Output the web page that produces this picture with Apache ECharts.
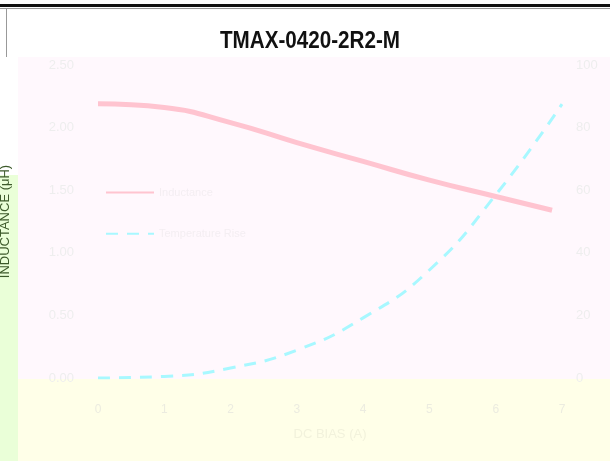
<!DOCTYPE html>
<html>
<head>
<meta charset="utf-8">
<script src="https://cdn.jsdelivr.net/npm/echarts@6/dist/echarts.min.js"></script>
<style>
  html, body { margin: 0; padding: 0; background: #fff; }
  #chart { width: 610px; height: 461px; }
</style>
</head>
<body>
<div id="chart"></div>
<script>
// DC bias current (A)
var current = [0, 1, 2, 3, 4, 5, 6, 6.85];
// inductance (uH) vs current
var inductance = [2.19, 2.16, 2.04, 1.88, 1.73, 1.58, 1.45, 1.34];
// current points for temperature rise
var currentT = [0, 1, 2, 3, 4, 5, 6, 7];
// temperature rise (C) vs current
var tempRise = [0, 0.5, 3.2, 8.9, 19.2, 34.5, 58.5, 87.5];

var chart = echarts.init(document.getElementById('chart'));

var option = {
  backgroundColor: '#fff',
  animation: false,
  graphic: [
    { type: 'rect', z: -10, shape: { x: 0, y: 4, width: 610, height: 3 }, style: { fill: '#111' } },
    { type: 'rect', z: -10, shape: { x: 0, y: 8, width: 610, height: 1 }, style: { fill: '#999' } },
    { type: 'rect', z: -10, shape: { x: 6, y: 9, width: 1, height: 48 }, style: { fill: '#999' } },
    { type: 'rect', z: -10, shape: { x: 18, y: 57, width: 592, height: 322 }, style: { fill: '#fff8fd' } },
    { type: 'rect', z: -10, shape: { x: 0, y: 175, width: 18, height: 286 }, style: { fill: '#eaffd8' } },
    { type: 'rect', z: -10, shape: { x: 18, y: 379, width: 592, height: 82 }, style: { fill: '#ffffe8' } },
    {
      type: 'text', z: 10, x: 310, y: 41, scaleX: 0.86,
      style: {
        text: 'TMAX-0420-2R2-M',
        align: 'center', verticalAlign: 'middle',
        font: 'bold 24px "Liberation Sans", Arial',
        fill: '#111'
      }
    }
  ],
  legend: {
    orient: 'vertical',
    left: 100,
    top: 182,
    itemGap: 30,
    itemWidth: 48,
    itemHeight: 14,
    itemStyle: { opacity: 0 },
    textStyle: { color: '#f4eef2', fontSize: 11 },
    data: ['Inductance', 'Temperature Rise']
  },
  grid: { left: 98, right: 48, top: 65, bottom: 83, outerBoundsMode: 'none' },
  xAxis: {
    type: 'value',
    min: 0,
    max: 7,
    interval: 1,
    name: 'DC BIAS (A)',
    nameLocation: 'middle',
    nameGap: 50,
    nameTextStyle: { color: '#f2f2dc', fontSize: 13 },
    axisLine: { show: false },
    axisTick: { show: false },
    splitLine: { show: false },
    axisLabel: { color: '#ecece0', fontSize: 12, margin: 26 }
  },
  yAxis: [
    {
      type: 'value',
      min: 0,
      max: 2.5,
      interval: 0.5,
      name: 'INDUCTANCE (\u03bcH)',
      nameLocation: 'middle',
      nameGap: 86,
      nameRotate: 90,
      nameTextStyle: { color: '#3c5a2a', fontSize: 13 },
      axisLine: { show: false },
      axisTick: { show: false },
      splitLine: { show: false },
      axisLabel: {
        color: '#eeeeee',
        fontSize: 13,
        margin: 24,
        formatter: function (v) { return v.toFixed(2); }
      }
    },
    {
      type: 'value',
      min: 0,
      max: 100,
      interval: 20,
      position: 'right',
      axisLine: { show: false },
      axisTick: { show: false },
      splitLine: { show: false },
      axisLabel: { color: '#eeeeee', fontSize: 13, margin: 14 }
    }
  ],
  series: [
    {
      name: 'Inductance',
      type: 'line',
      smooth: true,
      symbol: 'none',
      yAxisIndex: 0,
      data: current.map(function (x, i) { return [x, inductance[i]]; }),
      lineStyle: { color: '#ffc4d0', width: 5 },
      itemStyle: { color: '#ffc4d0' }
    },
    {
      name: 'Temperature Rise',
      type: 'line',
      smooth: true,
      symbol: 'none',
      yAxisIndex: 1,
      data: currentT.map(function (x, i) { return [x, tempRise[i]]; }),
      lineStyle: { color: '#a8f8ff', width: 3, type: [12, 9] },
      itemStyle: { color: '#a8f8ff' }
    }
  ]
};

chart.setOption(option);
</script>
</body>
</html>
